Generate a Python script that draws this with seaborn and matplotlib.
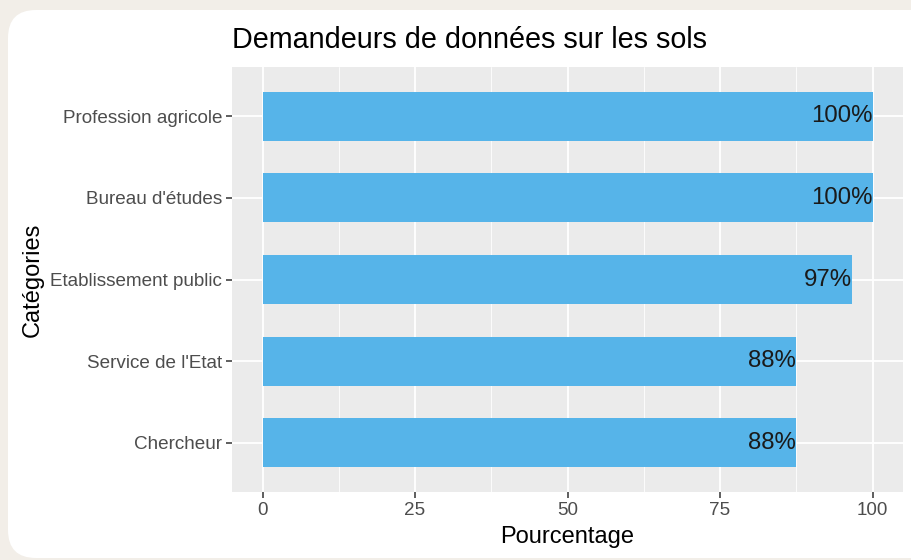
import matplotlib
matplotlib.use("Agg")
import matplotlib.pyplot as plt
import seaborn as sns
import pandas as pd
from matplotlib.patches import FancyBboxPatch
from matplotlib.transforms import IdentityTransform
from matplotlib.ticker import MultipleLocator

categories = ["Profession agricole", "Bureau d'études", "Etablissement public",
              "Service de l'Etat", "Chercheur"]
percentages = [100, 100, 96.6, 87.5, 87.5]
value_labels = ["100%", "100%", "97%", "88%", "88%"]
x_ticks = [0, 25, 50, 75, 100]

df = pd.DataFrame({"categorie": categories, "pourcentage": percentages})

sns.set_theme(style="darkgrid")
plt.rcParams["font.family"] = ["Liberation Sans", "DejaVu Sans"]

fig = plt.figure(figsize=(9.11, 5.6), dpi=100, facecolor="#f2eee8")

# white rounded card behind the plot
card = FancyBboxPatch((8, 2), 940, 548, boxstyle="round,pad=0,rounding_size=28",
                      facecolor="white", edgecolor="none", transform=IdentityTransform(),
                      zorder=-10)
fig.patches.append(card)

ax = fig.add_axes([232 / 911, 1 - 492 / 560, 671 / 911, 425 / 560])
ax.set_facecolor("#ebebeb")

sns.barplot(data=df, x="pourcentage", y="categorie", order=categories,
            color="#56b4e9", saturation=1, width=0.6, orient="h", linewidth=0, ax=ax)

for i, (v, lab) in enumerate(zip(percentages, value_labels)):
    ax.text(v, i, lab, ha="right", va="center", fontsize=17.3, color="#1a1a1a")

ax.set_xlim(-5, 105)
ax.set_ylim(4.6, -0.6)
ax.set_xticks(x_ticks)
ax.xaxis.set_minor_locator(MultipleLocator(12.5))
ax.set_axisbelow(True)
ax.grid(which="major", color="white", linewidth=1.3)
ax.grid(which="minor", axis="x", color="white", linewidth=0.6)
for s in ax.spines.values():
    s.set_visible(False)

ax.tick_params(axis="both", which="major", length=4, width=1.1, color="#333333",
               labelcolor="#4d4d4d", labelsize=13.6, pad=3, bottom=True, left=True)
ax.tick_params(which="minor", length=0)

ax.set_xlabel("Pourcentage", fontsize=17, color="black", labelpad=5)
ax.set_ylabel("Catégories", fontsize=17, color="black", labelpad=5)
ax.set_title("Demandeurs de données sur les sols", fontsize=20.7, loc="left",
             color="black", pad=14)

fig.savefig("out.png", dpi=100, facecolor=fig.get_facecolor())
